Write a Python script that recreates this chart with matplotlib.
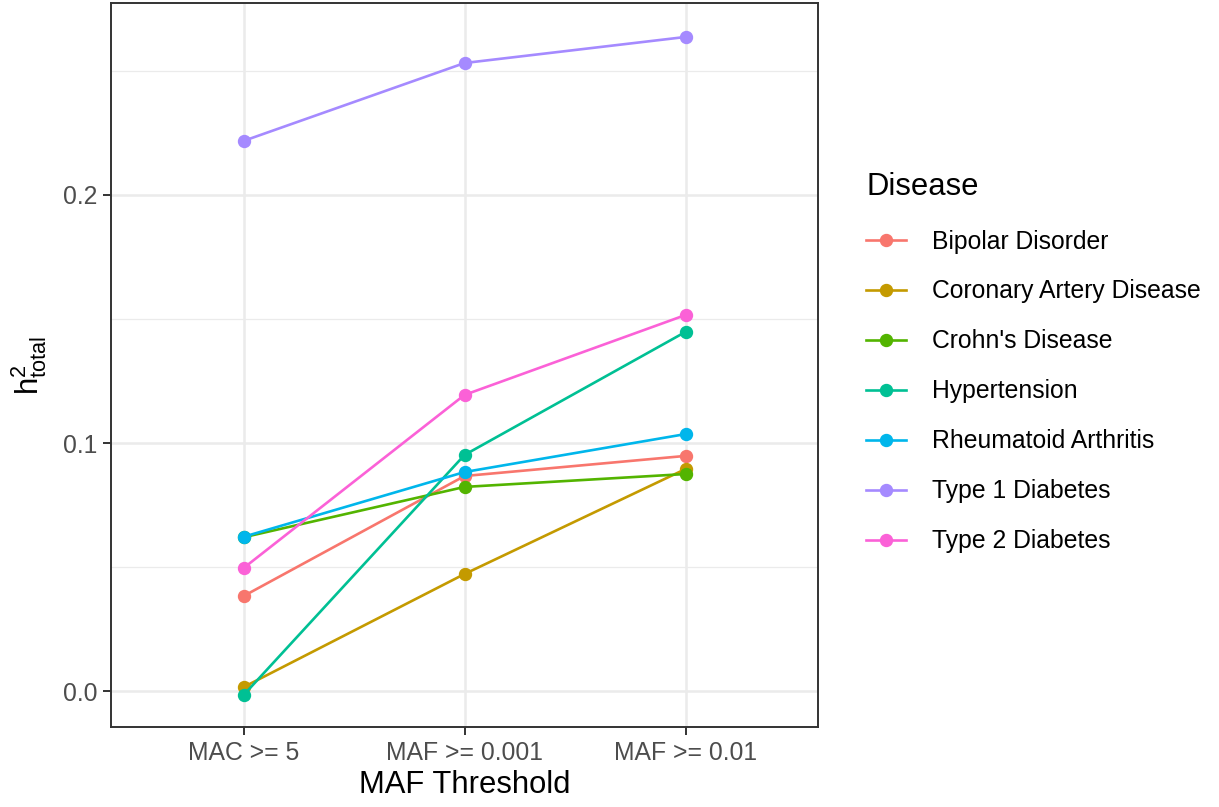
import matplotlib
matplotlib.use("Agg")
import matplotlib.pyplot as plt
from matplotlib.ticker import MultipleLocator

plt.rcParams["font.family"] = ["Liberation Sans", "DejaVu Sans"]

thresholds = ["MAC >= 5", "MAF >= 0.001", "MAF >= 0.01"]
diseases = ["Bipolar Disorder", "Coronary Artery Disease", "Crohn's Disease",
            "Hypertension", "Rheumatoid Arthritis", "Type 1 Diabetes", "Type 2 Diabetes"]
colors = ["#F8766D", "#C49A00", "#53B400", "#00C094", "#00B6EB", "#A58AFF", "#FB61D7"]

bipolar = [0.0383, 0.0867, 0.0948]
cad = [0.0016, 0.0472, 0.0895]
crohn = [0.0620, 0.0823, 0.0875]
hypertension = [-0.0016, 0.0952, 0.1448]
ra = [0.0622, 0.0883, 0.1036]
t1d = [0.2218, 0.2532, 0.2637]
t2d = [0.0496, 0.1194, 0.1516]
values = [bipolar, cad, crohn, hypertension, ra, t1d, t2d]

fig = plt.figure(figsize=(12.19, 8.07), dpi=100)
ax = fig.add_axes([0.0911, 0.0991, 0.5800, 0.8972])

x = range(len(thresholds))
for name, vals, c in zip(diseases, values, colors):
    ax.plot(x, vals, "-o", color=c, lw=1.9, ms=8.6, label=name, zorder=3)

ax.set_xlim(-0.6, 2.6)
ax.set_ylim(-0.0145, 0.2774)
ax.set_xticks(list(x))
ax.set_xticklabels(thresholds)
ax.yaxis.set_major_locator(MultipleLocator(0.1))
ax.yaxis.set_minor_locator(MultipleLocator(0.05))
ax.set_yticks([0.0, 0.1, 0.2])
ax.set_yticklabels(["0.0", "0.1", "0.2"])

ax.grid(which="major", color="#EBEBEB", lw=1.8, zorder=0)
ax.grid(which="minor", axis="y", color="#EBEBEB", lw=0.9, zorder=0)
ax.set_axisbelow(True)
for s in ax.spines.values():
    s.set_color("#333333")
    s.set_linewidth(1.4)
ax.tick_params(which="major", length=6, width=1.4, color="#333333",
               labelsize=17.8, labelcolor="#4D4D4D", pad=4)
ax.tick_params(which="minor", length=0)

ax.set_xlabel("MAF Threshold", fontsize=22.3, color="black", labelpad=4)
ax.set_ylabel(r"$\mathregular{h^2_{total}}$", fontsize=22.3, color="black", labelpad=10)

leg = ax.legend(loc="upper left", bbox_to_anchor=(0.7005, 0.8025), bbox_transform=fig.transFigure,
                frameon=False, title="Disease", fontsize=17.8, title_fontsize=22.3,
                labelspacing=1.05, handlelength=1.6, handletextpad=1.05, borderpad=0)
leg._legend_box.align = "left"
leg._legend_box.sep = 20

fig.savefig("out.png", dpi=100)
